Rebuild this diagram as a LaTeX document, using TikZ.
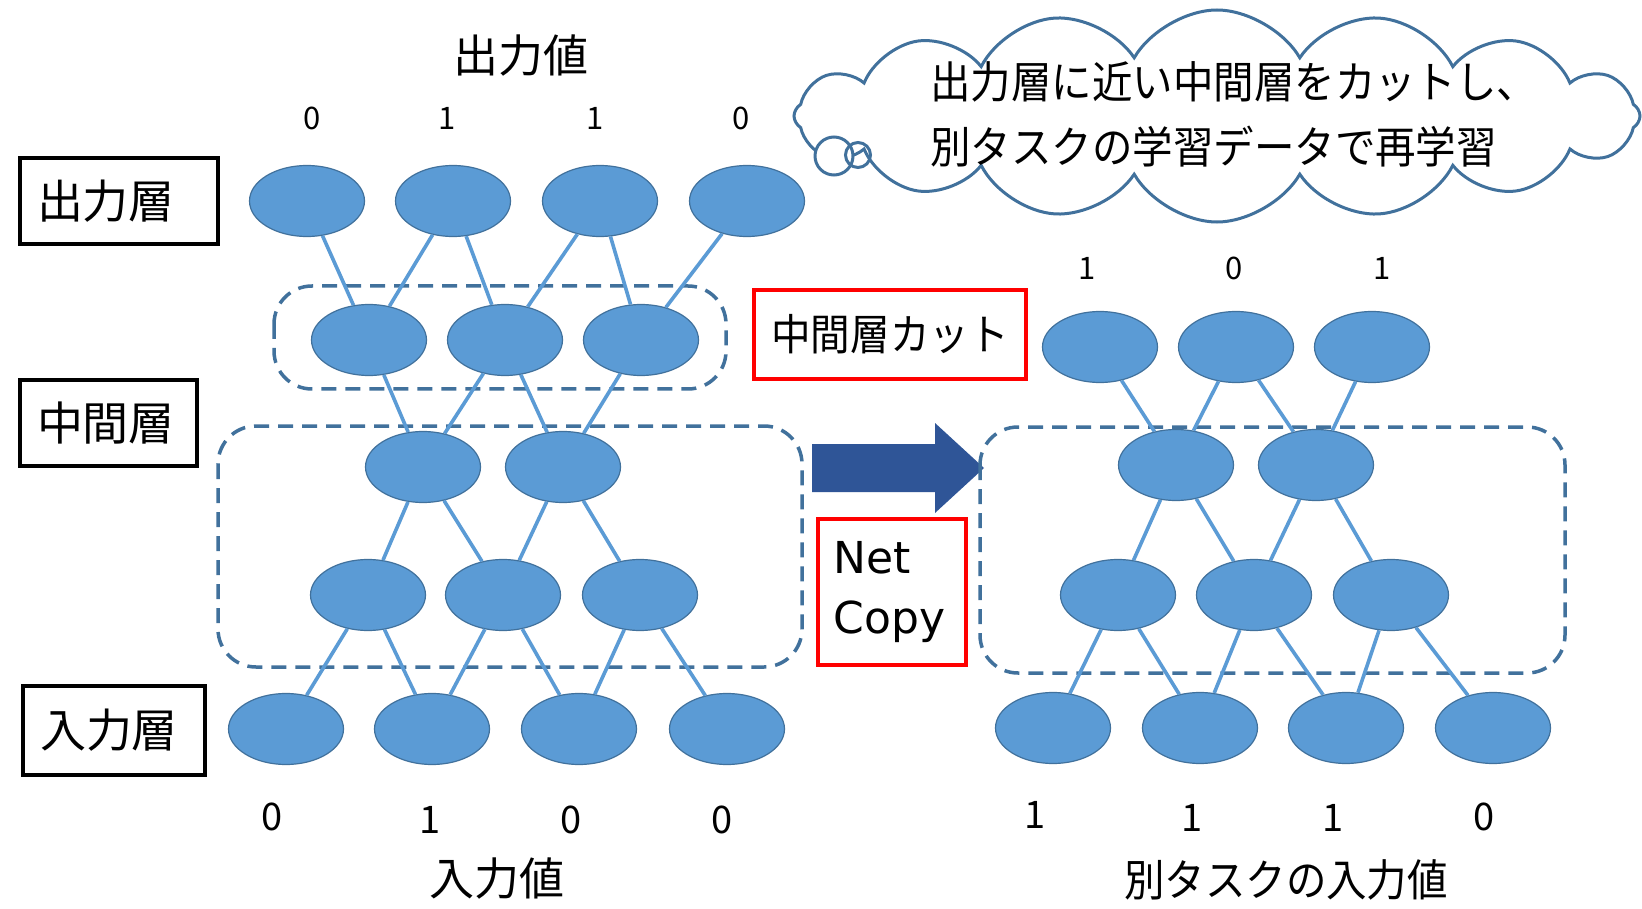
\documentclass[tikz,border=0pt]{standalone}
\usepackage{fontspec}
\newfontfamily\jp{Noto Sans CJK JP}
\newfontfamily\jpc[FakeStretch=0.92]{Noto Sans CJK JP}
\newfontfamily\vd{DejaVu Sans}
\usetikzlibrary{shapes.geometric,shapes.symbols}
\definecolor{nodefill}{HTML}{5B9BD5}
\definecolor{nodeline}{HTML}{41719C}
\definecolor{dashc}{HTML}{41719C}
\definecolor{arrowc}{HTML}{2F5597}
\tikzset{
  neuron/.style={ellipse, fill=nodefill, draw=nodeline, line width=1.2pt, minimum width=115pt, minimum height=71pt, inner sep=0pt},
  link/.style={draw=nodefill, line width=3.6pt},
  dbox/.style={draw=dashc, line width=3.5pt, dash pattern=on 15pt off 9pt, rounded corners=38pt},
  layerbox/.style={draw=black, line width=4pt, anchor=west, inner xsep=17pt, align=left, font=\jp\fontsize{46}{50}\selectfont, minimum height=86pt},
  redbox/.style={draw=red, line width=3.5pt},
  val/.style={font=\jp\fontsize{31}{34}\selectfont},
  valb/.style={font=\jp\fontsize{38}{40}\selectfont},
}
\begin{document}
\begin{tikzpicture}[x=1pt,y=-1pt]
\useasboundingbox (0,0) rectangle (1642,909);
\fill[white] (0,0) rectangle (1642,909);

% cloud
\node[cloud, cloud puffs=16, cloud puff arc=120, cloud ignores aspect, draw=dashc, line width=3pt, fill=white, minimum width=846pt, minimum height=212pt] (cloud) at (1217,116) {};
\node[circle, draw=dashc, line width=3pt, fill=white, minimum size=38pt, inner sep=0pt] (bub1) at (834,156) {};
\node[circle, draw=dashc, line width=3pt, minimum size=25pt, inner sep=0pt] (bub2) at (858,155) {};
\node[anchor=west, inner sep=0pt, font=\jpc\fontsize{44}{48}\selectfont] (ct1) at (930,82) {出力層に近い中間層をカットし、};
\node[anchor=west, inner sep=0pt, font=\jpc\fontsize{44}{48}\selectfont] (ct2) at (930,147) {別タスクの学習データで再学習};

% left labels
\node[layerbox, text width=164pt] (lo) at (18,201) {出力層};
\node[layerbox, text width=143pt] (lm) at (18,423) {中間層};
\node[layerbox, text width=148pt, minimum height=89pt] (li) at (21,730) {入力層};

\node[font=\jp\fontsize{45}{50}\selectfont] (ov) at (521,55) {出力値};
\node[val] (ov1) at (312,118) {0};
\node[val] (ov2) at (447,118) {1};
\node[val] (ov3) at (595,118) {1};
\node[val] (ov4) at (741,118) {0};

% dashed boxes left
\draw[dbox] (274,286) rectangle (726,389);
\draw[dbox] (218,426) rectangle (802,667);

% left neurons
\node[neuron] (o1) at (307,201) {};
\node[neuron] (o2) at (453,201) {};
\node[neuron] (o3) at (600,201) {};
\node[neuron] (o4) at (747,201) {};
\node[neuron] (c1) at (369,340) {};
\node[neuron] (c2) at (505,340) {};
\node[neuron] (c3) at (641,340) {};
\node[neuron] (a1) at (423,467) {};
\node[neuron] (a2) at (563,467) {};
\node[neuron] (b1) at (368,595) {};
\node[neuron] (b2) at (503,595) {};
\node[neuron] (b3) at (640,595) {};
\node[neuron] (i1) at (286,729) {};
\node[neuron] (i2) at (432,729) {};
\node[neuron] (i3) at (579,729) {};
\node[neuron] (i4) at (727,729) {};

\draw[link] (o1) -- (c1); \draw[link] (o2) -- (c1); \draw[link] (o2) -- (c2);
\draw[link] (o3) -- (c2); \draw[link] (o3) -- (c3); \draw[link] (o4) -- (c3);
\draw[link] (c1) -- (a1); \draw[link] (c2) -- (a1); \draw[link] (c2) -- (a2); \draw[link] (c3) -- (a2);
\draw[link] (a1) -- (b1); \draw[link] (a1) -- (b2); \draw[link] (a2) -- (b2); \draw[link] (a2) -- (b3);
\draw[link] (b1) -- (i1); \draw[link] (b1) -- (i2); \draw[link] (b2) -- (i2);
\draw[link] (b2) -- (i3); \draw[link] (b3) -- (i3); \draw[link] (b3) -- (i4);

\node[valb] (iv1) at (272,817) {0};
\node[valb] (iv2) at (430,820) {1};
\node[valb] (iv3) at (571,820) {0};
\node[valb] (iv4) at (722,820) {0};
\node[font=\jp\fontsize{45}{50}\selectfont] (iv) at (497,878) {入力値};

% middle
\node[redbox, minimum width=272pt, minimum height=89pt, font=\jpc\fontsize{43}{48}\selectfont] (cut) at (890,334.5) {中間層カット};
\node[redbox, anchor=north west, minimum width=148pt, minimum height=146pt, inner xsep=16pt, align=left, text width=116pt, font=\vd\fontsize{44}{60}\selectfont] (copy) at (816,517) {Net\\Copy};
\fill[arrowc] (812,444) -- (935,444) -- (935,423) -- (984,468) -- (935,513) -- (935,492) -- (812,492) -- cycle;

% right network
\node[val] (rv1) at (1087,268) {1};
\node[val] (rv2) at (1234,268) {0};
\node[val] (rv3) at (1382,268) {1};
\draw[dbox] (980,427) rectangle (1565,673);
\node[neuron] (t1) at (1100,347) {};
\node[neuron] (t2) at (1236,347) {};
\node[neuron] (t3) at (1372,347) {};
\node[neuron] (p1) at (1176,465) {};
\node[neuron] (p2) at (1316,465) {};
\node[neuron] (q1) at (1118,595) {};
\node[neuron] (q2) at (1254,595) {};
\node[neuron] (q3) at (1391,595) {};
\node[neuron] (j1) at (1053,728) {};
\node[neuron] (j2) at (1200,728) {};
\node[neuron] (j3) at (1346,728) {};
\node[neuron] (j4) at (1493,728) {};
\draw[link] (t1) -- (p1); \draw[link] (t2) -- (p1); \draw[link] (t2) -- (p2); \draw[link] (t3) -- (p2);
\draw[link] (p1) -- (q1); \draw[link] (p1) -- (q2); \draw[link] (p2) -- (q2); \draw[link] (p2) -- (q3);
\draw[link] (q1) -- (j1); \draw[link] (q1) -- (j2); \draw[link] (q2) -- (j2);
\draw[link] (q2) -- (j3); \draw[link] (q3) -- (j3); \draw[link] (q3) -- (j4);
\node[valb] (jv1) at (1035,815) {1};
\node[valb] (jv2) at (1192,818) {1};
\node[valb] (jv3) at (1333,818) {1};
\node[valb] (jv4) at (1484,817) {0};
\node[font=\jpc\fontsize{44}{50}\selectfont] (jv) at (1286,880) {別タスクの入力値};
\end{tikzpicture}
\end{document}
